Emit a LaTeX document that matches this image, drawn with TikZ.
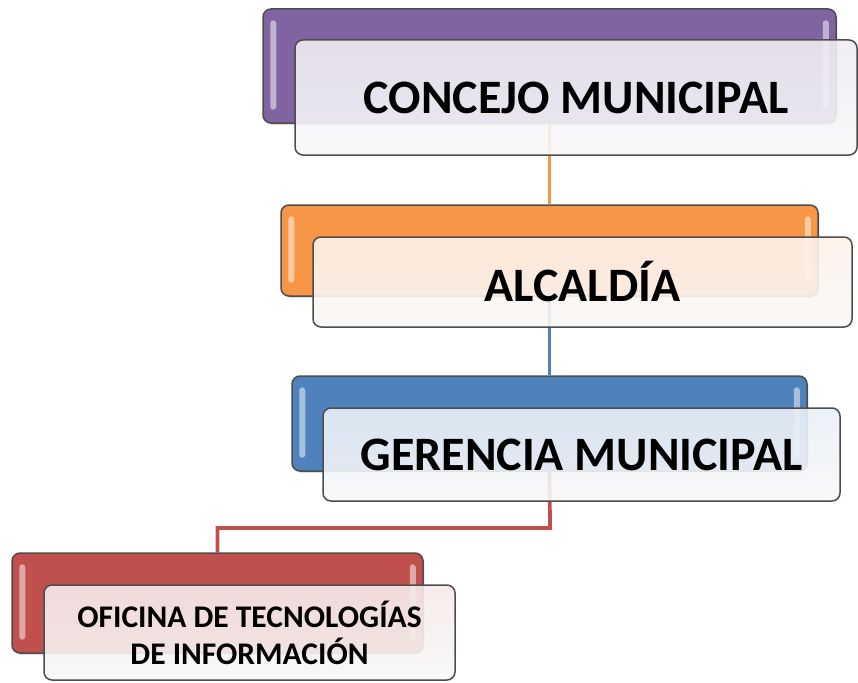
\documentclass[tikz,border=0pt]{standalone}
\usepackage{fontspec}
\setmainfont{Carlito}
\usetikzlibrary{backgrounds,shadows}

\definecolor{concejo}{HTML}{8064A2}
\definecolor{alcaldia}{HTML}{F79646}
\definecolor{gerencia}{HTML}{4F81BD}
\definecolor{oficina}{HTML}{C0504D}
\definecolor{edge}{HTML}{4D4D4D}

\tikzset{
  backbox/.style={draw=edge, line width=1.5pt, rounded corners=8pt,
    drop shadow={opacity=0.25, shadow xshift=1.5pt, shadow yshift=-2pt}},
  frontbox/.style={draw=edge, line width=1.5pt, rounded corners=8pt,
    top color=#1!12!white, bottom color=white!97!black,
    fill opacity=0.9, text opacity=1, align=center,
    font=\bfseries\fontsize{48}{57}\selectfont},
  smalltext/.style={font=\bfseries\fontsize{31.5}{37}\selectfont},
  glint/.style={fill=white, opacity=0.5, rounded corners=3pt},
  link/.style={line width=3.8pt}
}

\begin{document}
\begin{tikzpicture}[x=1pt, y=-1pt]
  \useasboundingbox (0,0) rectangle (858,682);

  % colored boxes
  \node[backbox, fill=concejo, minimum width=573, minimum height=114] (conback) at (549.5,66) {};
  \node[backbox, fill=alcaldia, minimum width=537, minimum height=91] (alcback) at (549.5,250.5) {};
  \node[backbox, fill=gerencia, minimum width=515, minimum height=95] (gerback) at (549.5,423.5) {};
  \node[backbox, fill=oficina, minimum width=411, minimum height=100] (ofiback) at (217.5,603) {};

  \foreach \b in {conback,alcback,gerback,ofiback} {
    \fill[glint] ([shift={(8,12)}]\b.north west) rectangle ([shift={(14,-14)}]\b.south west);
    \fill[glint] ([shift={(-14,12)}]\b.north east) rectangle ([shift={(-8,-14)}]\b.south east);
  }

  % white boxes
  \node[frontbox=concejo, minimum width=562, minimum height=115] (confront) at (576,97.5)
    {CONCEJO MUNICIPAL};
  \node[frontbox=alcaldia, minimum width=539, minimum height=90] (alcfront) at (582.5,282)
    {ALCALDÍA};
  \node[frontbox=gerencia, minimum width=517, minimum height=93] (gerfront) at (581.5,454.5)
    {GERENCIA MUNICIPAL};
  \node[frontbox=oficina, smalltext, minimum width=411, minimum height=95] (ofifront) at (249.5,632.5)
    {OFICINA DE TECNOLOGÍAS\\ DE INFORMACIÓN};

  \coordinate (ofibend) at (550,528);

  \begin{scope}[on background layer]
    \draw[link, alcaldia] (conback.south) -- (alcback.north);
    \draw[link, gerencia] (alcback.south) -- (gerback.north);
    \draw[link, oficina] (gerback.south) -- (ofibend) -| (ofiback.north);
  \end{scope}
\end{tikzpicture}
\end{document}
